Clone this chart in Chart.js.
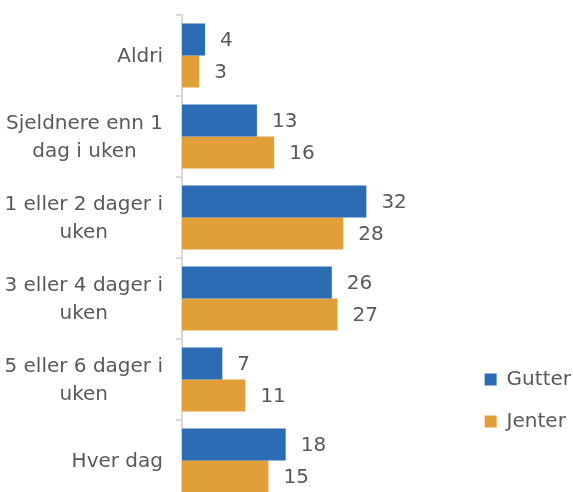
<!DOCTYPE html>
<html>
<head>
<meta charset="utf-8">
<script src="https://cdn.jsdelivr.net/npm/chart.js@4"></script>
<style>
  html, body { margin: 0; padding: 0; overflow: hidden; background: #fff; }
  #wrap { width: 573px; height: 502px; position: relative; }
</style>
</head>
<body>
<div id="wrap"><canvas id="myChart"></canvas></div>
<script>
const categories = [
    'Aldri',
    ['Sjeldnere enn 1', 'dag i uken'],
    ['1 eller 2 dager i', 'uken'],
    ['3 eller 4 dager i', 'uken'],
    ['5 eller 6 dager i', 'uken'],
    'Hver dag'
];
const gutter = [4, 13, 32, 26, 7, 18];
const jenter = [3, 16, 28, 27, 11, 15];

const textColor = '#595959';
const fontFamily = '"DejaVu Sans", sans-serif';
const fontSize = 20;

// verdier til høyre for stolpene
const valueLabels = {
    id: 'valueLabels',
    afterDatasetsDraw(chart) {
        const c = chart.ctx;
        c.save();
        c.font = fontSize + 'px ' + fontFamily;
        c.fillStyle = textColor;
        c.textAlign = 'left';
        c.textBaseline = 'middle';
        chart.data.datasets.forEach((ds, i) => {
            chart.getDatasetMeta(i).data.forEach((bar, j) => {
                c.fillText(ds.data[j], bar.x + 15, bar.y + 1);
            });
        });
        c.restore();
    }
};

// kategorinavn: blokken høyrejustert, linjene sentrert (som i Excel)
const categoryLabels = {
    id: 'categoryLabels',
    afterDraw(chart) {
        const scale = chart.scales.y;
        const c = chart.ctx;
        const right = scale.right - 6 - 13;
        const lineH = 28;
        c.save();
        c.font = fontSize + 'px ' + fontFamily;
        c.fillStyle = textColor;
        c.textAlign = 'center';
        c.textBaseline = 'middle';
        categories.forEach((lab, i) => {
            const lines = Array.isArray(lab) ? lab : [lab];
            const w = Math.max(...lines.map(l => c.measureText(l).width));
            const cx = right - w / 2;
            const cy = scale.getPixelForTick(i);
            lines.forEach((l, k) => {
                c.fillText(l, cx, cy + (k - (lines.length - 1) / 2) * lineH + 1);
            });
        });
        c.restore();
    }
};

const ctx = document.getElementById('myChart').getContext('2d');
const chart = new Chart(ctx, {
    type: 'bar',
    data: {
        labels: categories,
        datasets: [
            {
                label: 'Gutter',
                data: gutter,
                backgroundColor: '#2b6cb5',
                categoryPercentage: 0.79,
                barPercentage: 1
            },
            {
                label: 'Jenter',
                data: jenter,
                backgroundColor: '#e09f38',
                categoryPercentage: 0.79,
                barPercentage: 1
            }
        ]
    },
    plugins: [valueLabels, categoryLabels],
    options: {
        indexAxis: 'y',
        responsive: true,
        maintainAspectRatio: false,
        animation: false,
        layout: { padding: { top: 15, bottom: 1, left: 0, right: -8 } },
        scales: {
            x: {
                display: false,
                min: 0,
                max: 48.7
            },
            y: {
                afterFit: function (scale) {
                    scale.width = 182;
                    scale.paddingTop = 0;
                    scale.paddingBottom = 0;
                },
                border: { color: '#d9d9d9', width: 2 },
                grid: {
                    drawOnChartArea: false,
                    drawTicks: true,
                    tickLength: 6,
                    color: '#d9d9d9',
                    lineWidth: 2
                },
                ticks: {
                    color: 'rgba(0,0,0,0)',
                    padding: 13,
                    font: { family: fontFamily, size: fontSize }
                }
            }
        },
        plugins: {
            tooltip: { enabled: false },
            legend: {
                position: 'right',
                align: 'start',
                title: {
                    display: true,
                    text: ' ',
                    padding: { top: 0, bottom: 318 }
                },
                labels: {
                    boxWidth: 12,
                    boxHeight: 12,
                    padding: 22,
                    color: textColor,
                    font: { family: fontFamily, size: fontSize }
                }
            }
        }
    }
});
</script>
</body>
</html>
